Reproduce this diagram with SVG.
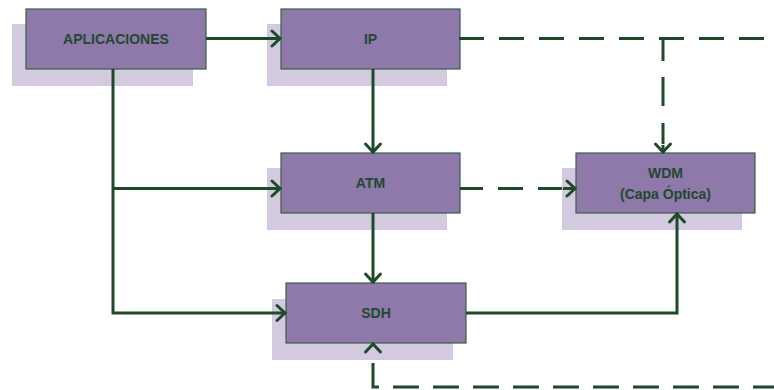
<svg xmlns="http://www.w3.org/2000/svg" width="774" height="390" viewBox="0 0 774 390">
<style>
.shadow{fill:#d3cae0;}
.box{fill:#8f78aa;stroke:#3d5c47;stroke-width:1.2;}
.lbl{font-family:"Liberation Sans",Arial,sans-serif;font-weight:bold;font-size:14px;fill:#1f4a2e;text-anchor:middle;}
.ln{fill:none;stroke:#1d4a2b;stroke-width:3;}
.dash{stroke-dasharray:25 15;}
</style>
<defs>
<marker id="arr" markerUnits="userSpaceOnUse" viewBox="-14 -10 16 20" refX="0" refY="0" markerWidth="16" markerHeight="20" orient="auto">
<path d="M-9,-7.5 L-1,0 L-9,7.5" fill="none" stroke="#1d4a2b" stroke-width="3" stroke-linecap="round" stroke-linejoin="miter"/>
</marker>
</defs>
<rect width="774" height="390" fill="#ffffff"/>

<g id="aplicaciones">
<rect class="shadow" x="12" y="24" width="181" height="62"/>
<rect class="box" x="26" y="9" width="180" height="60"/>
<text class="lbl" x="116" y="43.5">APLICACIONES</text>
</g>

<g id="ip">
<rect class="shadow" x="267" y="24" width="180" height="62"/>
<rect class="box" x="281" y="9" width="179" height="60"/>
<text class="lbl" x="370.5" y="43.5">IP</text>
</g>

<g id="atm">
<rect class="shadow" x="267" y="168" width="180" height="62"/>
<rect class="box" x="281" y="153" width="179" height="60"/>
<text class="lbl" x="370.5" y="188">ATM</text>
</g>

<g id="wdm">
<rect class="shadow" x="562" y="168" width="180" height="62"/>
<rect class="box" x="576" y="153" width="179" height="60"/>
<text class="lbl" x="665.5" y="177.5">WDM</text>
<text class="lbl" x="665.5" y="199">(Capa Óptica)</text>
</g>

<g id="sdh">
<rect class="shadow" x="272" y="299" width="181" height="61"/>
<rect class="box" x="286" y="283" width="180" height="60"/>
<text class="lbl" x="376" y="318">SDH</text>
</g>

<g id="connectors">
<path class="ln" d="M206 38.5 H281" marker-end="url(#arr)"/>
<path class="ln" d="M373 69 V153" marker-end="url(#arr)"/>
<path class="ln" d="M373 213 V283" marker-end="url(#arr)"/>
<path class="ln" d="M113 69 V313 H286" marker-end="url(#arr)"/>
<path class="ln" d="M113 188.5 H281" marker-end="url(#arr)"/>
<path class="ln" d="M466 313 H677 V213" marker-end="url(#arr)"/>
<path class="ln dash" d="M459 38.5 H774"/>
<path class="ln" d="M663 38.5 V61"/>
<path class="ln" d="M663 77 V106 M663 123 V144"/>
<path class="ln" d="M663 145 V153" marker-end="url(#arr)"/>
<path class="ln" d="M460 188.5 H483 M498 188.5 H523 M538 188.5 H562"/>
<path class="ln" d="M563 188.5 H576" marker-end="url(#arr)"/>
<path class="ln" d="M373 344 V343" marker-end="url(#arr)"/>
<path class="ln" d="M373 363 V387 H379"/>
<path class="ln" d="M393 387 H774" style="stroke-dasharray:26 14"/>
</g>
</svg>
